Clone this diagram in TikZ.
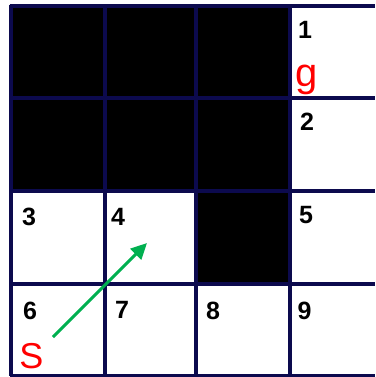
\documentclass[tikz,border=0pt]{standalone}
\usepackage{fontspec}
\setmainfont{Liberation Sans}
\usetikzlibrary{arrows.meta}
\definecolor{gridnavy}{RGB}{12,10,78}
\definecolor{arrowgreen}{RGB}{0,176,80}
\definecolor{labelred}{RGB}{255,0,0}
\tikzset{
  gridline/.style={draw=gridnavy, line width=3.3pt},
  blockcell/.style={fill=black},
  numlabel/.style={inner sep=0pt, font=\bfseries\fontsize{25}{25}\selectfont},
  letterlabel/.style={inner sep=0pt, text=labelred},
  movearrow/.style={draw=arrowgreen, line width=3pt, -{Triangle[length=16pt,width=15pt]}}
}
\begin{document}
\begin{tikzpicture}[x=1pt,y=-1pt]
\useasboundingbox (0,0) rectangle (375,377);
\fill[white] (0,0) rectangle (375,377);
% blocked cells
\fill[blockcell] (11,6) rectangle (290,191);
\fill[blockcell] (196,191) rectangle (290,284);
% grid
\foreach \x in {11,105,196,290} \draw[gridline] (\x,5) -- (\x,376);
\foreach \y in {6,98,191,284,375.5} \draw[gridline] (9.5,\y) -- (375,\y);
% labels
\node[numlabel] (n1) at (305,30) {1};
\node[letterlabel, anchor=base, font=\fontsize{40}{40}\selectfont] (g) at (307,87) {g};
\node[numlabel] (n2) at (307,122) {2};
\node[numlabel] (n3) at (29,217) {3};
\node[numlabel] (n4) at (118,217) {4};
\node[numlabel] (n5) at (306,215) {5};
\node[numlabel] (n6) at (30,311) {6};
\node[numlabel] (n7) at (122,310) {7};
\node[numlabel] (n8) at (213,311) {8};
\node[numlabel] (n9) at (304.5,311) {9};
\node[letterlabel, font=\fontsize{36}{36}\selectfont] (s) at (31.5,356.5) {S};
% arrow
\coordinate (atail) at (53,337);
\coordinate (ahead) at (147,243);
\draw[movearrow] (atail) -- (ahead);
\end{tikzpicture}
\end{document}
